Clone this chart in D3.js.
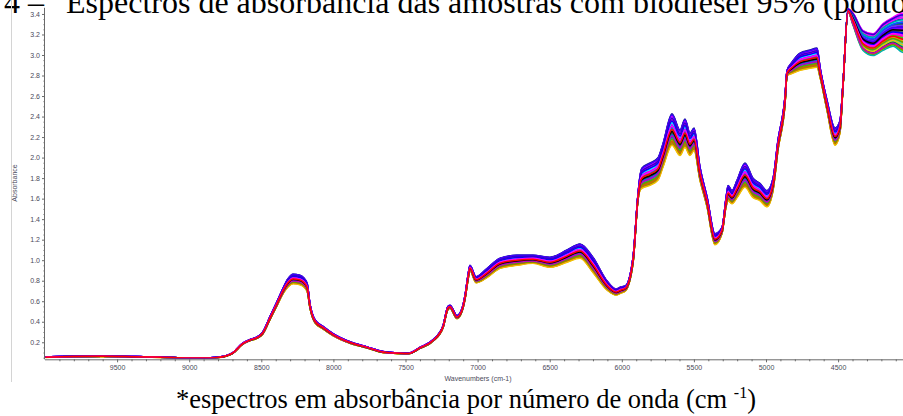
<!DOCTYPE html>
<html>
<head>
<meta charset="utf-8">
<script src="https://cdn.jsdelivr.net/npm/d3@7"></script>
<style>
  html, body { margin: 0; padding: 0; background: #fff; }
  svg { display: block; }
</style>
</head>
<body>
<svg id="chart" width="903" height="416"></svg>
<script>
// Wavenumber grid (cm-1) of the spectra, high to low
const wavenumbers = [10000, 9800, 9600, 9400, 9200, 9000, 8900, 8800, 8700, 8630, 8580, 8520, 8490, 8440, 8390, 8355, 8315, 8280, 8232, 8183, 8162, 8128, 8072, 8003, 7885, 7767, 7656, 7538, 7480, 7400, 7309, 7240, 7205, 7191, 7143, 7108, 7087, 7067, 7053, 7011, 6935, 6845, 6727, 6616, 6498, 6380, 6290, 6200, 6103, 6040, 6005, 5975, 5922, 5888, 5874, 5860, 5804, 5749, 5714, 5652, 5596, 5562, 5527, 5499, 5458, 5409, 5354, 5305, 5277, 5263, 5236, 5201, 5146, 5090, 5042, 4993, 4951, 4917, 4868, 4854, 4820, 4764, 4695, 4646, 4625, 4577, 4521, 4487, 4466, 4431, 4397, 4327, 4258, 4188, 4119, 4057, 4000];

// Lowest absorbance among the samples at each wavenumber
const absorbanceLow = [0.052, 0.060, 0.062, 0.058, 0.052, 0.045, 0.044, 0.050, 0.090, 0.180, 0.215, 0.245, 0.280, 0.420, 0.560, 0.660, 0.740, 0.770, 0.760, 0.700, 0.530, 0.390, 0.330, 0.265, 0.190, 0.145, 0.100, 0.090, 0.088, 0.140, 0.210, 0.340, 0.520, 0.530, 0.430, 0.500, 0.620, 0.800, 0.900, 0.780, 0.830, 0.920, 0.950, 0.970, 0.930, 0.980, 1.020, 0.880, 0.710, 0.660, 0.680, 0.700, 0.970, 1.580, 1.680, 1.700, 1.730, 1.780, 1.910, 2.120, 2.020, 2.100, 2.020, 2.070, 1.780, 1.520, 1.150, 1.260, 1.520, 1.580, 1.550, 1.610, 1.710, 1.610, 1.580, 1.520, 1.680, 2.070, 2.520, 2.800, 2.820, 2.850, 2.870, 2.880, 2.780, 2.460, 2.120, 2.240, 2.690, 3.420, 3.290, 3.040, 2.990, 3.040, 3.080, 3.020, 3.000];

// Highest absorbance among the samples at each wavenumber
const absorbanceHigh = [0.058, 0.064, 0.066, 0.062, 0.056, 0.048, 0.047, 0.054, 0.096, 0.190, 0.225, 0.260, 0.300, 0.450, 0.600, 0.710, 0.820, 0.865, 0.855, 0.780, 0.570, 0.420, 0.355, 0.285, 0.205, 0.155, 0.110, 0.095, 0.093, 0.150, 0.225, 0.360, 0.550, 0.560, 0.460, 0.530, 0.660, 0.850, 0.950, 0.840, 0.920, 1.020, 1.050, 1.050, 1.030, 1.100, 1.160, 1.030, 0.800, 0.720, 0.740, 0.750, 1.030, 1.640, 1.820, 1.900, 1.950, 2.000, 2.140, 2.430, 2.270, 2.380, 2.240, 2.290, 1.910, 1.620, 1.260, 1.320, 1.610, 1.730, 1.680, 1.780, 1.950, 1.800, 1.750, 1.680, 1.800, 2.170, 2.600, 2.850, 2.930, 3.020, 3.050, 3.070, 2.880, 2.560, 2.290, 2.360, 2.720, 3.450, 3.410, 3.240, 3.210, 3.310, 3.370, 3.410, 3.400];

// Position of each sample inside the spread (0 = lowest, 1 = highest)
const sampleLevel = [0.02, 0.97, 0.11, 0.88, 0.35, 0.63, 0.05, 0.78, 0.47, 0.21, 0.93, 0.58, 0.14, 0.69, 0.40, 0.83, 0.27, 0.52, 0.09, 0.74, 0.31, 0.99, 0.44, 0.17, 0.66, 0.56, 0.24, 0.86, 0.38, 0.71, 0.00, 0.91, 0.49, 0.13, 0.61, 0.80, 0.33, 0.95, 0.19, 0.54, 0.76, 0.29, 0.43, 0.85, 0.60, 0.50];

// Position of each sample in the noisy combination band below 4450 cm-1
const sampleLevelCombination = [0.30, 0.85, 0.05, 0.62, 0.71, 0.18, 0.44, 0.97, 0.12, 0.55, 0.78, 0.36, 0.26, 0.90, 0.08, 0.66, 0.49, 0.23, 0.40, 0.93, 0.58, 0.74, 0.15, 0.33, 0.88, 0.47, 0.02, 0.69, 0.52, 0.81, 0.21, 0.99, 0.38, 0.10, 0.60, 0.42, 0.76, 0.64, 0.28, 0.83, 0.50, 0.13, 0.57, 0.95, 0.45, 0.35];

// Trace colour of each sample
const sampleColor = ["#ffa500", "#0000c0", "#c8c800", "#8000ff", "#00a000", "#00c8c8", "#808000", "#4040ff", "#ff00ff", "#008080", "#c000c0", "#a000c0", "#ff8000", "#0080ff", "#00d000", "#6000c0", "#000000", "#00e0e0", "#b08000", "#c000ff", "#ff0080", "#2020a0", "#008000", "#e0a000", "#ff00ff", "#0000ff", "#00b0b0", "#7030ff", "#404040", "#00ffff", "#f0c000", "#ff00ff", "#00ff00", "#d06000", "#9000ff", "#ff00c0", "#0060ff", "#4000ff", "#60a000", "#00a0a0", "#0000ff", "#c000c0", "#000000", "#3000d0", "#ff00ff", "#ff0000"];

// Axis ticks
const xTickValues = [9500, 9000, 8500, 8000, 7500, 7000, 6500, 6000, 5500, 5000, 4500];
const yTickValues = [0.2, 0.4, 0.6, 0.8, 1.0, 1.2, 1.4, 1.6, 1.8, 2.0, 2.2, 2.4, 2.6, 2.8, 3.0, 3.2, 3.4];

const svg = d3.select("#chart");
const W = 903, H = 416;
const plot = { left: 45, right: 910.2, top: 7.8, bottom: 359.3 };

const x = d3.scaleLinear().domain([10000, 4000]).range([plot.left, plot.right]);
const y = d3.scaleLinear().domain([0.034, 3.46]).range([plot.bottom, plot.top]);

const serif = "'Liberation Serif', 'Times New Roman', serif";
const sans = "'Liberation Sans', Arial, sans-serif";

// Figure title (runs past the page edges)
svg.append("text")
  .attr("x", 44).attr("y", 12.5)
  .attr("text-anchor", "end")
  .attr("font-family", serif)
  .attr("font-size", 32)
  .attr("fill", "#000")
  .text("Figura 4 –");
svg.append("text")
  .attr("x", 66).attr("y", 12.5)
  .attr("font-family", serif)
  .attr("font-size", 32)
  .attr("fill", "#000")
  .text("Espectros de absorbância das amostras com biodiesel 95% (ponto 1)");

// Frame edge of the spectrum panel
svg.append("line")
  .attr("x1", 11.5).attr("x2", 11.5).attr("y1", 0).attr("y2", 382)
  .attr("stroke", "#d4d4d4").attr("stroke-width", 1);

// Clip for the traces
svg.append("defs").append("clipPath").attr("id", "plotclip")
  .append("rect")
  .attr("x", plot.left + 0.5).attr("y", plot.top - 2)
  .attr("width", plot.right - plot.left).attr("height", plot.bottom - plot.top + 1);

// Build per-sample spectra from the spread arrays
const spectra = sampleLevel.map((lvl, i) => {
  const lvlC = sampleLevelCombination[i];
  return wavenumbers.map((wn, k) => {
    const f = wn > 4450 ? lvl : lvlC;
    return { wn, a: absorbanceLow[k] + f * (absorbanceHigh[k] - absorbanceLow[k]) };
  });
});

const line = d3.line()
  .x(d => x(d.wn))
  .y(d => y(d.a))
  .curve(d3.curveMonotoneX);

svg.append("g").attr("clip-path", "url(#plotclip)")
  .selectAll("path")
  .data(spectra)
  .join("path")
  .attr("d", line)
  .attr("fill", "none")
  .attr("stroke", (d, i) => sampleColor[i])
  .attr("stroke-width", 1.5)
  .attr("stroke-linejoin", "round");

const axisColor = "#6a6a6a";
const labelColor = "#4a4a5a";

// Y axis: minor ticks then labelled ticks
const yMinor = d3.range(0.05, 3.45, 0.05).filter(v => Math.abs(v * 5 - Math.round(v * 5)) > 1e-6);
const gyMinor = svg.append("g").attr("transform", `translate(${plot.left},0)`)
  .call(d3.axisLeft(y).tickValues(yMinor).tickSize(1.5).tickFormat(""));
gyMinor.select(".domain").remove();
gyMinor.selectAll("line").attr("stroke", axisColor);

const gy = svg.append("g").attr("transform", `translate(${plot.left},0)`)
  .call(d3.axisLeft(y).tickValues(yTickValues).tickSize(3).tickPadding(2).tickFormat(d3.format(".1f")));
gy.select(".domain").attr("stroke", axisColor).attr("d", `M-0.5,${plot.top}V${plot.bottom}`);
gy.selectAll("line").attr("stroke", axisColor);
gy.selectAll("text").attr("fill", labelColor)
  .attr("font-family", sans).attr("font-size", 7);

// X axis: minor ticks every 100 cm-1 then labelled ticks
const xMinor = d3.range(9900, 4000, -100).filter(v => v % 500 !== 0);
const gxMinor = svg.append("g").attr("transform", `translate(0,${plot.bottom})`)
  .call(d3.axisBottom(x).tickValues(xMinor).tickSize(2).tickFormat(""));
gxMinor.select(".domain").remove();
gxMinor.selectAll("line").attr("stroke", axisColor);

const gx = svg.append("g").attr("transform", `translate(0,${plot.bottom})`)
  .call(d3.axisBottom(x).tickValues(xTickValues).tickSize(3).tickPadding(3).tickFormat(d3.format("d")));
gx.select(".domain").attr("stroke", axisColor).attr("d", `M${plot.left},0.5H${W}`);
gx.selectAll("line").attr("stroke", axisColor);
gx.selectAll("text").attr("fill", labelColor)
  .attr("font-family", sans).attr("font-size", 7);

// Axis titles
svg.append("text")
  .attr("transform", "translate(17,183) rotate(-90)")
  .attr("text-anchor", "middle")
  .attr("font-family", sans)
  .attr("font-size", 7)
  .attr("fill", labelColor)
  .text("Absorbance");

svg.append("text")
  .attr("x", 478).attr("y", 381)
  .attr("text-anchor", "middle")
  .attr("font-family", sans)
  .attr("font-size", 7)
  .attr("fill", labelColor)
  .text("Wavenumbers (cm-1)");

// Caption under the panel
const cap = svg.append("text")
  .attr("x", 466).attr("y", 408)
  .attr("text-anchor", "middle")
  .attr("font-family", serif)
  .attr("font-size", 26.5)
  .attr("fill", "#000");
cap.append("tspan").text("*espectros em absorbância por número de onda (cm ");
cap.append("tspan").attr("font-size", 16).attr("dy", -10).text("-1");
cap.append("tspan").attr("dy", 10).text(")");
</script>
</body>
</html>
